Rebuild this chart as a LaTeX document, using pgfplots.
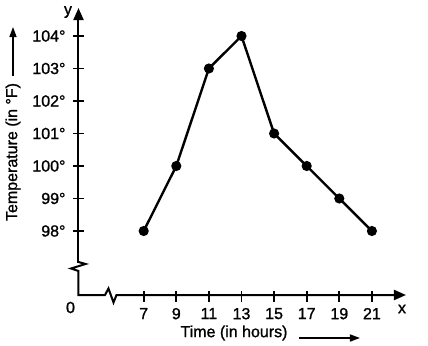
\documentclass[border=0pt]{standalone}
\usepackage{pgfplots}
\pgfplotsset{compat=1.18}
\usepackage{fontspec}
\setmainfont{Liberation Sans}[FakeBold=1.2,AutoFakeBold=1.2]
\usetikzlibrary{arrows.meta}
\begin{document}
\fontsize{16bp}{19bp}\selectfont\bfseries
\begin{tikzpicture}
\begin{axis}[
  scale only axis, width=326bp, height=292.5bp,
  xmin=3, xmax=23, ymin=96, ymax=105,
  axis lines=left, axis line style={draw=none},
  clip=false,
  xtick={7,9,11,13,15,17,19,21},
  xticklabels={7,9,11,13,15,17,19,21},
  ytick={98,99,100,101,102,103,104},
  yticklabels={98°,99°,100°,101°,102°,103°,104°},
  tick align=center, major tick length=11bp,
  tick style={black, line width=1.8bp},
  yticklabel style={anchor=east, xshift=-2bp, font=\fontsize{16bp}{19bp}\selectfont\bfseries},
  xticklabel style={anchor=north, yshift=-1bp, font=\fontsize{16bp}{19bp}\selectfont\bfseries},
]
\addplot[black, line width=2.4bp, mark=*, mark size=3.8bp] coordinates {
  (7,98) (9,100) (11,103) (13,104) (15,101) (17,100) (19,99) (21,98)
};
\coordinate (O) at (axis cs:3,96);
\end{axis}
\begin{scope}[shift={(O)}, x=1bp, y=1bp]
\begin{scope}[yscale=-1, shift={(-78.5,-296)}]
% axes with breaks
\draw[line width=2bp, line join=miter, -{Triangle[length=12bp,width=10bp]}]
  (78.5,262) -- (85.5,264) -- (71,268.5) -- (78.5,271) -- (78.5,295)
  -- (105,295) -- (108.5,288.5) -- (113.5,302.5) -- (116.5,295) -- (406,295);
\draw[line width=2bp, -{Triangle[length=12bp,width=10bp]}]
  (78.5,262.5) -- (78.5,8);
\node at (68,12) {y};
\node at (402,309) {x};
\node at (70.5,307.5) {0};
% axis labels
\node[rotate=90] at (13,152) {Temperature (in °F)};
\draw[line width=1.5bp, -{Triangle[length=10bp,width=7bp]}] (13,76) -- (13,27);
\node at (234,333) {Time (in hours)};
\draw[line width=1.5bp, -{Triangle[length=10bp,width=7bp]}] (299,338) -- (360,338);
\pgfresetboundingbox
\path (0,0) rectangle (428,346);
\end{scope}
\end{scope}
\end{tikzpicture}
\end{document}
